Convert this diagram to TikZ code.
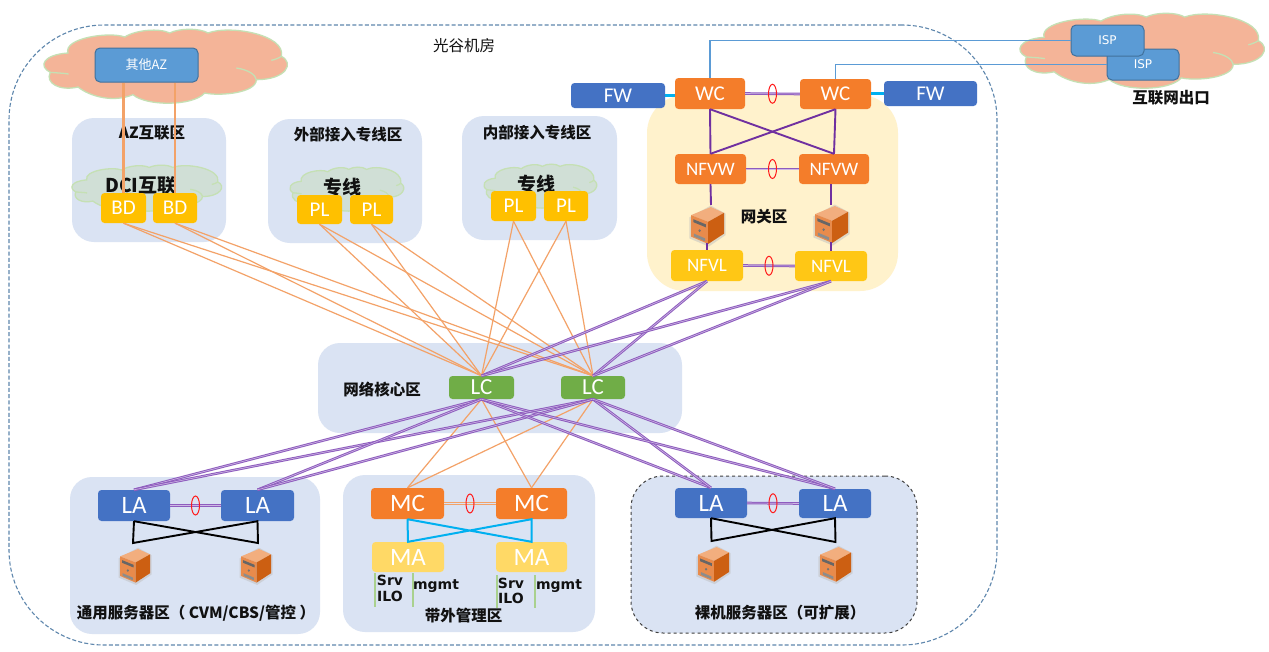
\documentclass[tikz,border=0pt]{standalone}
\usepackage{fontspec}
\setmainfont{Carlito}
\newfontfamily\cjk{Noto Sans CJK SC}
\newfontfamily\dv{DejaVu Sans}
\usetikzlibrary{shapes.geometric}
\definecolor{zonebg}{HTML}{DAE3F3}
\definecolor{gatebg}{HTML}{FFF2CC}
\definecolor{cloudO}{HTML}{F4B498}
\definecolor{cloudG}{HTML}{D0DFD6}
\definecolor{cloudE}{HTML}{C5E0B4}
\definecolor{outer}{HTML}{5F87AD}
\definecolor{azblue}{HTML}{5B9BD5}
\definecolor{azedge}{HTML}{41719C}
\definecolor{blue2}{HTML}{4472C4}
\definecolor{orange2}{HTML}{F47D2A}
\definecolor{gold}{HTML}{FFC000}
\definecolor{gold2}{HTML}{FFC715}
\definecolor{lightgold}{HTML}{FFD966}
\definecolor{lcgreen}{HTML}{70AD47}
\definecolor{purp}{HTML}{7030A0}
\definecolor{softpurp}{HTML}{8E5CBE}
\definecolor{softpurp2}{HTML}{CDB8E4}
\definecolor{softor}{HTML}{F3A268}
\definecolor{cyan2}{HTML}{00B0F0}
\definecolor{grn2}{HTML}{A9D18E}
\definecolor{txt}{HTML}{111111}
\definecolor{srvtop}{HTML}{F2AE7E}
\definecolor{srvleft}{HTML}{E88B4C}
\definecolor{srvright}{HTML}{CC5F12}
\tikzset{
  zone/.style={fill=zonebg,draw=none,rounded corners=22pt,inner sep=0pt},
  gatezone/.style={fill=gatebg,draw=none,rounded corners=38pt,inner sep=0pt},
  dashzone/.style={fill=zonebg,draw=black!75,dashed,line width=1pt,rounded corners=32pt,inner sep=0pt},
  dev/.style={rounded corners=3.5pt,inner sep=0pt,text=white},
  azb/.style={dev,fill=azblue,draw=azedge,line width=1pt,rounded corners=5pt},
  cldline/.style={draw=cloudE,line width=1.3pt},
  lab/.style={font=\cjk\bfseries\fontsize{15.5}{18}\selectfont,text=txt,inner sep=0pt},
  big/.style={font=\cjk\bfseries\fontsize{19}{22}\selectfont,text=txt,inner sep=0pt},
  mono/.style={font=\dv\bfseries\fontsize{14}{16}\selectfont,text=txt,inner sep=0pt},
  ring/.style={shape=ellipse,draw=red!90,line width=1pt,minimum width=8pt,minimum height=19pt,inner sep=0pt,fill=none},
  orl/.style={draw=softor,line width=1.2pt},
  orv/.style={draw=softor,line width=2.2pt},
  pur/.style={draw=softpurp,double=softpurp2,line width=1pt,double distance=.6pt},
  hardp/.style={draw=purp,line width=1.9pt},
  blk/.style={draw=black,line width=1.9pt},
  cy/.style={draw=cyan2,line width=2pt},
  isp/.style={draw=azblue,line width=1.1pt},
  gr/.style={draw=grn2,line width=1.4pt},
}
\newcommand{\bx}[7]{\node[#6,minimum width={(#4-#2)*1pt},minimum height={(#5-#3)*1pt}] (#1) at ({(#2+#4)/2},{(#3+#5)/2}) {#7};}
\newcommand{\szz}[1]{\fontsize{#1}{#1}\selectfont}
% cloud traced in a 732 x 222 box: x1 y1 width height fill
\newcommand{\cloudfig}[5]{%
 \begin{scope}[shift={(#1,#2)},x=#3/732*1pt,y=-#4/222*1pt,shift={(-133,-88)}]
  \draw[cldline,fill=#5] (152,218)
    .. controls (115,200) and (130,165) .. (205,160)
    .. controls (190,115) and (330,95) .. (375,112)
    .. controls (410,90) and (480,85) .. (510,100)
    .. controls (540,85) and (600,85) .. (625,100)
    .. controls (690,75) and (860,105) .. (845,170)
    .. controls (885,190) and (860,240) .. (770,240)
    .. controls (770,280) and (660,290) .. (615,280)
    .. controls (580,320) and (440,320) .. (400,285)
    .. controls (340,310) and (270,290) .. (235,262)
    .. controls (180,275) and (135,250) .. cycle;
  \draw[cldline] (845,170) .. controls (838,175) and (825,180) .. (815,182);
  \draw[cldline] (710,205) .. controls (745,210) and (768,225) .. (770,240);
  \draw[cldline] (152,218) .. controls (170,220) and (190,220) .. (207,223);
 \end{scope}}
\newcommand{\srv}[3]{%
 \begin{scope}[shift={(#1,#2)},x=#3*1pt,y=-#3*1.12pt]
  \fill[black!25,opacity=.5] (-.05,.28)--(.6,-.04)--(1.05,.18)--(1.05,.76)--(.54,1.07)--(-.05,.85)--cycle;
  \fill[srvtop] (0,.22)--(.6,0)--(1,.16)--(.52,.4)--cycle;
  \fill[srvleft] (0,.22)--(.52,.4)--(.52,1)--(0,.8)--cycle;
  \fill[srvright] (.52,.4)--(1,.16)--(1,.72)--(.52,1)--cycle;
  \fill[black!60] (.07,.33)--(.45,.47)--(.45,.55)--(.07,.41)--cycle;
  \fill[black!45] (.09,.72)--(.43,.85)--(.43,.93)--(.09,.80)--cycle;
  \fill[black!55] (.26,.64) circle[radius=.04];
 \end{scope}}
\begin{document}
\begin{tikzpicture}[x=1pt,y=-1pt]
\useasboundingbox (0,0) rectangle (1269,651);
\fill[white] (0,0) rectangle (1269,651);
% outer room
\bx{room}{9}{25}{997}{645}{draw=outer,line width=1.1pt,rounded corners=95pt,inner sep=0pt,dash pattern=on 4pt off 2.2pt}{}
\node[lab,font=\cjk\fontsize{15.5}{18}\selectfont] (roomlab) at (464,46) {光谷机房};
% zones
\bx{zaz}{72}{118}{226}{242}{zone}{}
\bx{zext}{268}{119}{422}{243}{zone}{}
\bx{zint}{462}{116}{617}{240}{zone}{}
\bx{zgw}{647}{95}{898}{291}{gatezone}{}
\bx{zcore}{318}{343}{682}{433}{zone}{}
\bx{zgen}{70}{477}{320}{634}{zone}{}
\bx{zoob}{343}{475}{595}{632}{zone}{}
\bx{zbare}{631}{476}{917}{633}{dashzone}{}
% clouds
\cloudfig{44}{29}{244}{74}{cloudO}
\cloudfig{1020}{13}{245}{75}{cloudO}
\cloudfig{72}{165}{150}{46}{cloudG}
\cloudfig{290}{167}{114}{44}{cloudG}
\cloudfig{484}{164}{113}{44}{cloudG}
% labels
\node[lab] (l1) at (152,133) {AZ互联区};
\node[lab] (l2) at (348,135) {外部接入专线区};
\node[lab] (l3) at (537,133) {内部接入专线区};
\node[big] (l4) at (141,186) {DCI互联};
\node[big] (l5) at (342,187) {专线};
\node[big] (l6) at (536,184) {专线};
\node[lab] (l7) at (1171,98) {互联网出口};
\node[lab] (l8) at (764,217) {网关区};
\node[lab] (l9) at (382,390) {网络核心区};
\node[lab] (l10) at (196,613) {通用服务器区（ CVM/CBS/管控 ）};
\node[lab] (l11) at (463.5,616) {带外管理区};
\node[lab] (l12) at (780,613) {裸机服务器区（可扩展）};
% devices
\bx{az}{95}{48}{198}{82}{azb,font=\cjk\szz{13}}{其他AZ}
\bx{isp1}{1107}{49}{1179}{80}{azb,font=\dv\szz{12}}{ISP}
\bx{isp0}{1071}{25}{1144}{56}{azb,font=\dv\szz{12}}{ISP}
\bx{bd1}{101}{193}{146}{223}{dev,fill=gold,font=\szz{21}}{BD}
\bx{bd2}{153}{193}{197}{223}{dev,fill=gold,font=\szz{21}}{BD}
\bx{pl1}{297}{195}{342}{224}{dev,fill=gold,font=\szz{21}}{PL}
\bx{pl2}{350}{195}{393}{224}{dev,fill=gold,font=\szz{21}}{PL}
\bx{pl3}{491}{191}{536}{221}{dev,fill=gold,font=\szz{21}}{PL}
\bx{pl4}{544}{191}{588}{221}{dev,fill=gold,font=\szz{21}}{PL}
\bx{fw1}{571}{83}{665}{108}{dev,fill=blue2,font=\szz{21}}{FW}
\bx{fw2}{884}{81}{977}{106}{dev,fill=blue2,font=\szz{21}}{FW}
\bx{wc1}{675}{78}{745}{109}{dev,fill=orange2,font=\szz{21}}{WC}
\bx{wc2}{800}{79}{871}{109}{dev,fill=orange2,font=\szz{21}}{WC}
\bx{nw1}{675}{154}{746}{184}{dev,fill=orange2,font=\szz{19}}{NFVW}
\bx{nw2}{799}{154}{869}{184}{dev,fill=orange2,font=\szz{19}}{NFVW}
\bx{nl1}{671}{250}{743}{281}{dev,fill=gold2,font=\szz{19}}{NFVL}
\bx{nl2}{795}{251}{867}{281}{dev,fill=gold2,font=\szz{19}}{NFVL}
\bx{lc1}{449}{376}{514}{399}{dev,fill=lcgreen,font=\szz{23}}{LC}
\bx{lc2}{561}{376}{625}{399}{dev,fill=lcgreen,font=\szz{23}}{LC}
\bx{la1}{98}{490}{170}{521}{dev,fill=blue2,font=\szz{25}}{LA}
\bx{la2}{221}{490}{294}{521}{dev,fill=blue2,font=\szz{25}}{LA}
\bx{mc1}{371}{488}{444}{519}{dev,fill=orange2,font=\szz{25}}{MC}
\bx{mc2}{496}{488}{567}{519}{dev,fill=orange2,font=\szz{25}}{MC}
\bx{ma1}{372}{542}{444}{572}{dev,fill=lightgold,font=\szz{25}}{MA}
\bx{ma2}{496}{542}{567}{572}{dev,fill=lightgold,font=\szz{25}}{MA}
\bx{la3}{675}{488}{747}{518}{dev,fill=blue2,font=\szz{25}}{LA}
\bx{la4}{799}{489}{871}{518}{dev,fill=blue2,font=\szz{25}}{LA}
% small text
\node[mono] (s1) at (390,580) {Srv};
\node[mono] (i1) at (390,596) {ILO};
\node[mono] (m1) at (436,586) {mgmt};
\node[mono] (s2) at (511,583) {Srv};
\node[mono] (i2) at (511,598) {ILO};
\node[mono] (m2) at (559,586) {mgmt};
% servers
\srv{691}{207}{33}
\srv{815}{206}{33}
\srv{120}{549}{30}
\srv{241}{549}{30}
\srv{698}{547}{31}
\srv{820}{547}{31}
% server-link coordinates
\coordinate (sv1t) at (711,205);
\coordinate (sv2t) at (831,205);
\coordinate (sv1b) at (707,243);
\coordinate (sv2b) at (831,242);
% AZ links
\draw[orv] (az.south -| bd1.south) -- (bd1.north);
\draw[orv] (az.south -| bd2.south) -- (bd2.north);
% orange to LC
\foreach \n in {bd1,bd2,pl1,pl2,pl3,pl4}{
  \draw[orl] (\n.south) -- (lc1.north);
  \draw[orl] (\n.south) -- (lc2.north);
}
\foreach \n in {lc1,lc2}{
  \draw[orl] (\n.south) -- (mc1.north);
  \draw[orl] (\n.south) -- (mc2.north);
}
% purple to LC
\foreach \n in {nl1,nl2}{
  \draw[pur] (\n.south) -- (lc1.north);
  \draw[pur] (\n.south) -- (lc2.north);
}
\foreach \n in {la1,la2,la3,la4}{
  \draw[pur] (lc1.south) -- (\n.north);
  \draw[pur] (lc2.south) -- (\n.north);
}
% LAG links
\draw[pur] (wc1.east) -- node[ring]{} (wc2.west);
\draw[pur] (nw1.east) -- node[ring]{} (nw2.west);
\draw[pur] (nl1.east) -- node[ring]{} (nl2.west);
\draw[pur] (la1.east) -- node[ring]{} (la2.west);
\draw[pur] (la3.east) -- node[ring]{} (la4.west);
\draw[draw=softor,double=zonebg,line width=1pt,double distance=1.6pt] (mc1.east) -- node[ring]{} (mc2.west);
% FW
\draw[cy,line width=2.4pt] (fw1.east) -- (wc1.west |- fw1.east);
\draw[cy,line width=2.4pt] (fw2.west) -- (wc2.east |- fw2.west);
% ISP
\coordinate (ispA) at (wc1.north |- isp0.west);
\coordinate (ispB) at (wc2.north |- isp1.west);
\draw[isp] (isp0.west) -- (ispA) -- (wc1.north);
\draw[isp] (isp1.west) -- (ispB) -- (wc2.north);
% gateway cross
\draw[hardp] (wc1.south) -- (nw1.north);
\draw[hardp] (wc2.south) -- (nw2.north);
\draw[hardp] (wc1.south) -- (nw2.north);
\draw[hardp] (wc2.south) -- (nw1.north);
\draw[hardp] (nw1.south) -- (sv1t);
\draw[hardp] (nw2.south -| sv2t) -- (sv2t);
\draw[hardp] (sv1b) -- (nl1.north);
\draw[hardp] (sv2b) -- (nl2.north);
% black crosses
\coordinate (x1) at (133,543);
\coordinate (x2) at (258,543);
\draw[blk] (la1.south) -- (x1) -- (la2.south) -- (x2) -- (la1.south);
\coordinate (x3) at (711.5,541);
\coordinate (x4) at (835.5,542);
\draw[blk] (la3.south) -- (x3) -- (la4.south) -- (x4) -- (la3.south);
% cyan cross
\draw[cy] (mc1.south) -- (ma1.north) -- (mc2.south) -- (ma2.north) -- (mc1.south);
% green drops
\coordinate (g1a) at (375,573); \coordinate (g1b) at (375,607);
\coordinate (g2a) at (413,573); \coordinate (g2b) at (413,607);
\coordinate (g3a) at (497,575); \coordinate (g3b) at (497,608);
\coordinate (g4a) at (535,575); \coordinate (g4b) at (535,608);
\draw[gr] (g1a)--(g1b); \draw[gr] (g2a)--(g2b); \draw[gr] (g3a)--(g3b); \draw[gr] (g4a)--(g4b);
\end{tikzpicture}
\end{document}
